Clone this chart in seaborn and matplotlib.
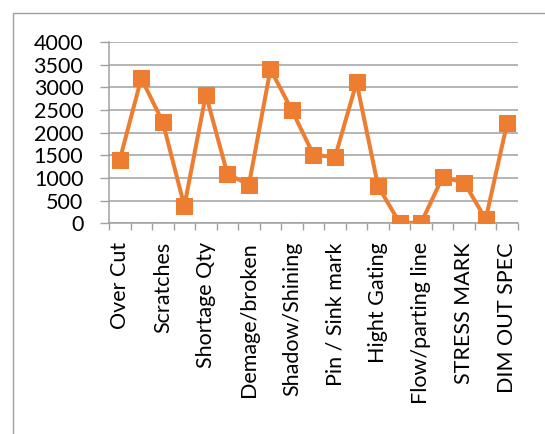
import numpy as np
import pandas as pd
import matplotlib
matplotlib.use("Agg")
import matplotlib.pyplot as plt
import seaborn as sns
from matplotlib.patches import Rectangle

# Data
label_names = ["Over Cut", "Scratches", "Shortage Qty", "Demage/broken", "Shadow/Shining",
               "Pin / Sink mark", "Hight Gating", "Flow/parting line", "STRESS MARK", "DIM OUT SPEC"]
values = [1400, 3200, 2230, 380, 2840, 1090, 850, 3400, 2490, 1510,
          1460, 3110, 820, 10, 10, 1020, 900, 90, 2220]
y_ticks = [0, 500, 1000, 1500, 2000, 2500, 3000, 3500, 4000]

sns.set_theme(style="white")
plt.rcParams['font.family'] = ['Lato', 'DejaVu Sans']

df = pd.DataFrame({"pos": np.arange(len(values)), "value": values})

fig = plt.figure(figsize=(5.45, 4.34), dpi=100)
ax = fig.add_axes([109/545, 1-223.3/434, (518-109)/545, (223.3-42)/434])

sns.lineplot(data=df, x="pos", y="value", ax=ax, color="#ED7D31", linewidth=2.9,
             marker="s", markersize=11, markeredgecolor="#ED7D31", zorder=3)

ax.set_xlim(-0.5, len(values) - 0.5)
ax.set_ylim(0, 4000)
ax.set_yticks(y_ticks)
ax.set_yticklabels([str(v) for v in y_ticks], fontsize=15.5, color="black")
ax.grid(axis="y", color="#A0A0A0", linewidth=1.1)
ax.grid(axis="x", visible=False)

# major ticks at category boundaries, labels on every other category
ax.set_xticks(np.arange(-0.5, len(values), 1.0))
ax.set_xticklabels([])
ax.set_xticks(np.arange(0, len(values), 2), minor=True)
ax.set_xticklabels(label_names, minor=True, rotation=90, fontsize=15.5, color="black",
                   va="top", ha="center")
ax.tick_params(axis="x", which="major", direction="out", length=5, width=1, color="#A0A0A0", bottom=True)
ax.tick_params(axis="x", which="minor", length=0, pad=13.5)
ax.tick_params(axis="y", direction="out", length=6.5, width=1, color="#A0A0A0", left=True, pad=12)

for s in ["top", "right"]:
    ax.spines[s].set_visible(False)
for s in ["left", "bottom"]:
    ax.spines[s].set_color("#A0A0A0")
    ax.spines[s].set_linewidth(1.1)
ax.set_xlabel("")
ax.set_ylabel("")
ax.set_facecolor("none")

fig.patches.append(Rectangle((13/545, -0.1), 1.0, 1 - 13/434 + 0.1, transform=fig.transFigure,
                             fill=False, edgecolor="#A0A0A0", linewidth=1.0))

fig.savefig("out.png", dpi=100)
